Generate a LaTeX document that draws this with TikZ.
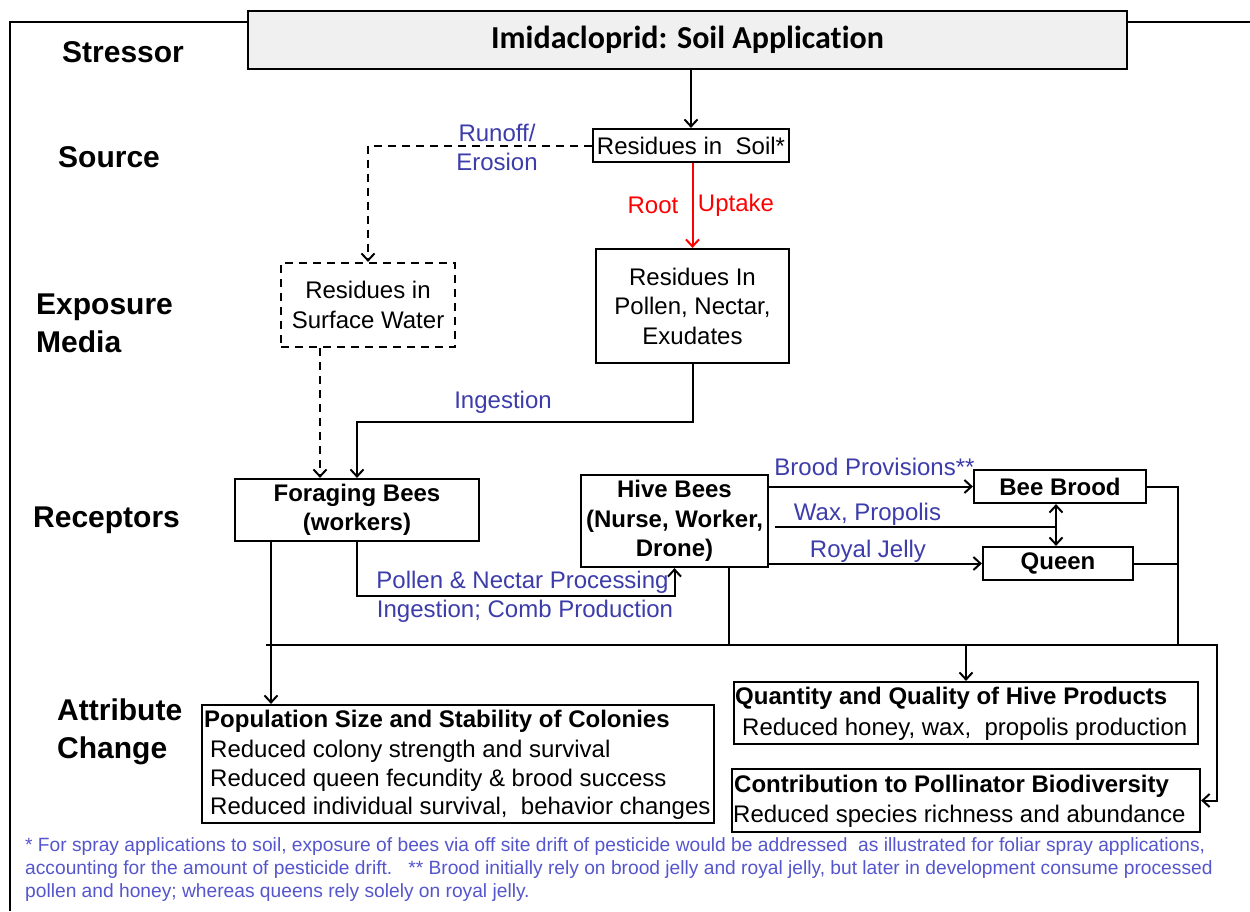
\documentclass[tikz,border=0pt]{standalone}
\usepackage{fontspec}
\setmainfont{Liberation Sans}
\newfontfamily\titlefont{Carlito}[Ligatures={NoCommon}]
\usetikzlibrary{arrows.meta}

\definecolor{labelblue}{RGB}{60,60,170}
\definecolor{noteblue}{RGB}{85,85,205}
\definecolor{titlegray}{RGB}{240,240,240}

\newcommand{\boxsize}{\fontsize{24}{29.5}\selectfont}
\newcommand{\levelsize}{\fontsize{30}{38}\selectfont}
\newcommand{\notesize}{\fontsize{19.2}{23}\selectfont}

\tikzset{
  box/.style={draw, line width=2.2pt, inner sep=0pt, align=center, font=\boxsize},
  dashbox/.style={box, dash pattern=on 8pt off 6pt},
  boldbox/.style={box, font=\boxsize\bfseries},
  level/.style={anchor=west, align=left, inner sep=0pt, font=\levelsize\bfseries},
  flow/.style={line width=2pt},
  dflow/.style={flow, dash pattern=on 8pt off 6pt},
  lbl/.style={text=labelblue, align=center, inner sep=0pt, font=\boxsize},
  item/.style={anchor=west, inner sep=0pt, font=\boxsize},
}

\begin{document}
\begin{tikzpicture}[x=1pt, y=-1pt, >={Straight Barb[length=7pt,width=13pt]}]
\useasboundingbox (0,0) rectangle (1250,911);

% stressor and frame
\node[box, fill=titlegray, minimum width=879pt, minimum height=58pt,
      font=\titlefont\fontsize{32}{36}\selectfont\bfseries] (title) at (687.5,40) {Imidacloprid: Soil Application};
\coordinate (frametl) at (10,22);
\coordinate (framebl) at (10,911);
\coordinate (frametr) at (1250,22);
\draw[flow] (title.west |- frametl) -- (frametl) -- (framebl);
\draw[flow] (title.east |- frametr) -- (frametr);

% levels
\node[level] (stressor) at (62,52) {Stressor};
\node[level] (source) at (58,157) {Source};
\node[level] (exposure) at (36,323) {Exposure\\Media};
\node[level] (receptors) at (33,520) {Receptors};
\node[level] (attribute) at (57,732) {Attribute\\Change};

% source and exposure media
\node[box, minimum width=196pt, minimum height=33pt] (soil) at (691,145.5) {Residues in\ \ Soil*};
\node[dashbox, minimum width=174pt, minimum height=84pt] (water) at (368,305) {Residues in\\Surface Water};
\node[box, minimum width=193pt, minimum height=114pt] (pollen) at (692.5,306) {Residues In\\Pollen, Nectar,\\Exudates};

% receptors
\node[boldbox, minimum width=244pt, minimum height=62pt] (forager) at (357,510) {Foraging Bees\\(workers)};
\node[boldbox, minimum width=187pt, minimum height=92pt] (hive) at (674.5,521) {Hive Bees\\(Nurse, Worker,\\Drone)};
\node[boldbox, minimum width=172pt, minimum height=33pt] (brood) at (1060,486.5) {Bee Brood};
\node[boldbox, minimum width=150pt, minimum height=33pt] (queen) at (1058,563.5) {Queen};

% attribute change
\node[box, minimum width=512pt, minimum height=118pt] (population) at (458,764) {};
\node[box, minimum width=464pt, minimum height=62pt] (quantity) at (966,713) {};
\node[box, minimum width=468pt, minimum height=63pt] (contrib) at (966,800.5) {};
\node[item, font=\boxsize\bfseries] (poptitle) at (204,721) {Population Size and Stability of Colonies};
\node[item] (popone) at (210,751) {Reduced colony strength and survival};
\node[item] (poptwo) at (210,780) {Reduced queen fecundity \& brood success};
\node[item] (popthree) at (210,808) {Reduced individual survival,\ \ behavior changes};
\node[item, font=\boxsize\bfseries] (quantitle) at (735,698) {Quantity and Quality of Hive Products};
\node[item] (quanone) at (742,729) {Reduced honey, wax,\ \ propolis production};
\node[item, font=\boxsize\bfseries] (contribtitle) at (734,786) {Contribution to Pollinator Biodiversity};
\node[item] (contribone) at (733,816) {Reduced species richness and abundance};

% helper points
\coordinate (wdrop) at (320,0);
\coordinate (ingest) at (357,422);
\coordinate (procy) at (0,596);
\coordinate (waxx) at (1056,527);
\coordinate (busl) at (266,645);
\coordinate (busr) at (1217,645);
\coordinate (busj) at (1178,645);
\coordinate (hivedrop) at (729,645);
\coordinate (fdrop) at (271,645);

% connectors
\draw[flow, ->] (soil.north |- title.south) -- (soil.north);
\draw[dflow, ->] (soil.west) -| (water.north);
\draw[flow, red, ->] (pollen.north |- soil.south) -- (pollen.north);
\draw[dflow, ->] (water.south -| wdrop) -- (forager.north -| wdrop);
\draw[flow, ->] (pollen.south) -- (pollen.south |- ingest) -- (ingest) -- (forager.north);
\draw[flow, ->] (forager.south) |- (hive.south |- procy) -- (hive.south);
\draw[flow, ->] (hive.east |- brood) -- (brood.west);
\draw[flow, ->] (hive.east |- queen) -- (queen.west);
\draw[flow] ([xshift=6pt]hive.east |- waxx) -- (waxx);
\draw[flow, <->] (brood.south -| waxx) -- (queen.north -| waxx);
\draw[flow] (brood.east) -| (busj);
\draw[flow] (queen.east) -- (queen.east -| busj);
\draw[flow] (hive.south -| hivedrop) -- (hivedrop);
\draw[flow, ->] (busl) -- (busr) |- (contrib.east);
\draw[flow, ->] (forager.south -| fdrop) -- (population.north -| fdrop);
\draw[flow, ->] (quantity.north |- busr) -- (quantity.north);

% connector labels
\node[lbl] (runoff) at (497,147.5) {Runoff/\\Erosion};
\node[lbl, text=red] (root) at (653,205) {Root};
\node[lbl, text=red] (uptake) at (736,205) {Uptake};
\node[lbl] (ingestlbl) at (503,402) {Ingestion};
\node[lbl] (processing) at (522.5,582) {Pollen \& Nectar Processing};
\node[lbl] (comb) at (525,611) {Ingestion; Comb Production};
\node[lbl] (provisions) at (874.5,467) {Brood Provisions**};
\node[lbl] (wax) at (867.5,514) {Wax, Propolis};
\node[lbl] (royal) at (868,551) {Royal Jelly};

% footnote
\node[anchor=north west, align=left, inner sep=0pt, text=noteblue, font=\notesize] (note) at (25,837)
  {* For spray applications to soil, exposure of bees via off site drift of pesticide would be addressed\ \ as illustrated for foliar spray applications,\\
   accounting for the amount of pesticide drift.\ \ \ ** Brood initially rely on brood jelly and royal jelly, but later in development consume processed\\
   pollen and honey; whereas queens rely solely on royal jelly.};
\end{tikzpicture}
\end{document}
